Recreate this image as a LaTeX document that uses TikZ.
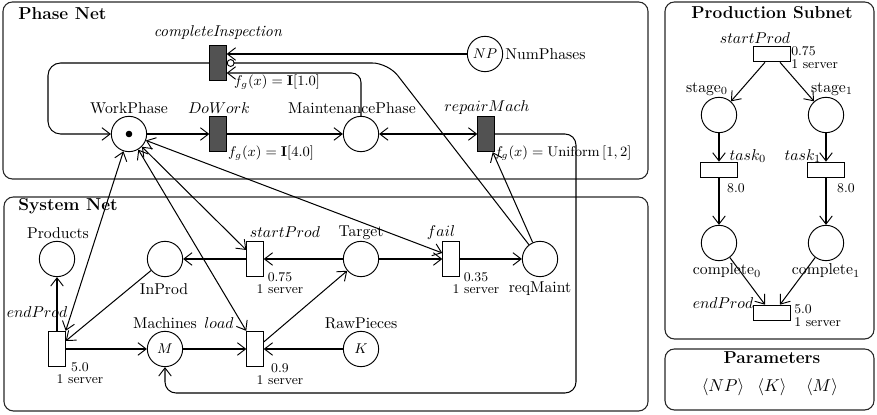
\documentclass[tikz,border=0pt]{standalone}
\usetikzlibrary{arrows.meta,calc}
\begin{document}
\begin{tikzpicture}[x=0.637pt,y=-0.637pt,
 >={Straight Barb[length=5.2pt,width=8pt,line width=0.6pt]},
 place/.style={circle,draw,line width=0.6pt,minimum size=22.5pt,inner sep=0pt,font=\small},
 vtrans/.style={rectangle,draw,line width=0.6pt,minimum width=10.5pt,minimum height=22.5pt,inner sep=0pt},
 htrans/.style={rectangle,draw,line width=0.6pt,minimum width=23pt,minimum height=10pt,inner sep=0pt},
 dark/.style={fill=black!68},
 panel/.style={draw=black!85,line width=0.7pt,rounded corners=6pt},
 thk/.style={line width=1.25pt},
 thn/.style={line width=0.65pt},
 lbl/.style={inner sep=0pt},
 rate/.style={inner sep=0pt,font=\fontsize{8.5}{7.6}\selectfont,align=center},
 ratew/.style={inner sep=0pt,font=\fontsize{8.5}{8}\selectfont,align=center},
 ratel/.style={inner sep=0pt,font=\fontsize{8.5}{8.5}\selectfont,align=left},
 fg/.style={inner sep=0pt,font=\small},
 title/.style={inner sep=0pt,font=\fontsize{11}{13}\bfseries\selectfont},
 inhib/.style={-{Circle[open,length=5pt,width=5pt,line width=0.6pt]}},
]
\useasboundingbox (0,0) rectangle (877,415);
% panels
\draw[panel] (3,2) rectangle (648,179);
\draw[panel] (4,197) rectangle (648,411);
\draw[panel] (665,2) rectangle (874,339);
\draw[panel] (665,349) rectangle (874,410);
\node[title,anchor=west] (tPN) at (18,14) {Phase Net};
\node[title,anchor=west] (tSN) at (18,206) {System Net};
\node[title] (tPS) at (772,13) {Production Subnet};
\node[title] (tPa) at (772,358) {Parameters};
\node[inner sep=0pt,font=\fontsize{11}{13}\selectfont] (pNP) at (723,387) {$\langle NP\rangle$};
\node[inner sep=0pt,font=\fontsize{11}{13}\selectfont] (pK) at (772,387) {$\langle K\rangle$};
\node[inner sep=0pt,font=\fontsize{11}{13}\selectfont] (pM) at (822,387) {$\langle M\rangle$};

% ---------------- Phase Net
\node[vtrans,dark] (ci) at (218,63) {};
\node[place] (NP) at (485,54) {$NP$};
\node[place] (WP) at (129,134) {};
\fill (WP.center) circle[radius=2.1pt];
\node[vtrans,dark] (dw) at (218,134) {};
\node[place] (MP) at (361,134) {};
\node[vtrans,dark] (rm) at (486,134) {};

\node[lbl] (lci) at (218,33) {\textit{completeInspection}};
\node[lbl,anchor=west] (lNP) at (505,54) {NumPhases};
\node[lbl] (lWP) at (129,108) {WorkPhase};
\node[lbl] (ldw) at (219,108) {$DoWork$};
\node[lbl] (lMP) at (352,108) {MaintenancePhase};
\node[lbl] (lrm) at (487,108) {$repairMach$};
\node[fg] (fci) at (277,82) {$f_g(x)=\mathbf{I}[1.0]$};
\node[fg] (fdw) at (271,153) {$f_g(x)=\mathbf{I}[4.0]$};
\node[fg] (frm) at (563,153) {$f_g(x)=\mathrm{Uniform}\,[1,2]$};

% ---------------- System Net
\node[place] (Pr) at (57,259) {};
\node[place] (IP) at (165,259) {};
\node[vtrans] (sp) at (255,259) {};
\node[place] (Tg) at (361,259) {};
\node[vtrans] (fl) at (451,259) {};
\node[place] (rq) at (540,259) {};
\node[vtrans] (ep) at (57,349) {};
\node[place] (Mc) at (165,349) {$M$};
\node[vtrans] (ld) at (255,349) {};
\node[place] (RP) at (361,349) {$K$};

\node[lbl] (lPr) at (58,233) {Products};
\node[lbl] (lIP) at (164,289) {InProd};
\node[lbl] (lsp) at (285,232) {$startProd$};
\node[rate] (rsp) at (280,283) {0.75\\1 server};
\node[lbl] (lTg) at (361,233) {Target};
\node[lbl] (lfl) at (441,233) {$fail$};
\node[ratew] (rfl) at (476,283) {0.35\\1 server};
\node[lbl] (lrq) at (540,289) {reqMaint};
\node[lbl] (lep) at (37,312) {$endProd$};
\node[rate] (rep) at (80,373) {5.0\\1 server};
\node[lbl] (lMc) at (165,323) {Machines};
\node[lbl] (lld) at (219,323) {$load$};
\node[rate] (rld) at (280,374) {0.9\\1 server};
\node[lbl] (lRP) at (361,323) {RawPieces};

% ---------------- Production Subnet
\node[htrans] (sp2) at (772,54) {};
\node[place] (s0) at (719,115) {};
\node[place] (s1) at (826,115) {};
\node[htrans] (t0) at (719,170) {};
\node[htrans] (t1) at (826,170) {};
\node[place] (c0) at (719,243) {};
\node[place] (c1) at (826,243) {};
\node[htrans] (ep2) at (772,313) {};

\node[lbl] (lsp2) at (755,38) {$startProd$};
\node[ratel,anchor=north west] (rsp2) at (791,46) {0.75\\1 server};
\node[lbl] (ls0) at (707,89) {stage$_0$};
\node[lbl] (ls1) at (832,89) {stage$_1$};
\node[lbl] (lt0) at (748,156) {$task_0$};
\node[lbl] (lt1) at (803,156) {$task_1$};
\node[ratel] (r0) at (736,188) {8.0};
\node[ratel] (r1) at (846,188) {8.0};
\node[lbl] (lc0) at (727,271) {complete$_0$};
\node[lbl] (lc1) at (826,271) {complete$_1$};
\node[lbl] (lep2) at (723,303) {$endProd$};
\node[ratel,anchor=north west] (rep2) at (794,304) {5.0\\1 server};

% ---------------- arcs: Phase Net
\draw[thk,->] (NP.west) -- (ci.east |- NP.west);
\draw[thn,inhib,rounded corners=10pt] (rq) -- (388,63) -- (ci.east);
\draw[thn,->,rounded corners=6pt] (MP) |- ($(ci.east)+(0,10)$);
\draw[thn,->,rounded corners=8pt] (ci.west) -- (48,63) -- (48,134) -- (WP);
\draw[thk,->] (WP) -- (dw);
\draw[thk,->] (dw) -- (MP);
\draw[thk,<->] (MP) -- (rm);
\draw[thn,->,rounded corners=7pt] (rm.east) -- (576,134) -- (576,393) -- (165,393) -- (Mc.south);
\draw[thn,->] (rq) -- ($(rm.south east)+(-2,0)$);

% ---------------- arcs: System Net
\draw[thn,<->] (ep.north east) -- (WP);
\draw[thn,<->] ($(sp.west)+(0,-9)$) -- (WP);
\draw[thn,<->] (ld.north west) -- (WP);
\draw[thn,<->] ($(fl.west)+(0,-6)$) -- (WP);
\draw[thk,->] (Tg) -- (sp);
\draw[thk,->] (sp) -- (IP);
\draw[thk,->] (Tg) -- (fl);
\draw[thk,->] (fl) -- (rq);
\draw[thk,->] (ep) -- (Pr);
\draw[thk,->] (ep) -- (Mc);
\draw[thn,->] (IP) -- ($(ep.east)+(0,-8)$);
\draw[thk,->] (Mc) -- (ld);
\draw[thk,->] (RP) -- (ld);
\draw[thn,->] ($(ld.east)+(0,-7)$) -- (Tg);

% ---------------- arcs: Production Subnet
\draw[thn,->] ($(sp2.south)+(-7,0)$) -- (s0);
\draw[thn,->] ($(sp2.south)+(8,0)$) -- (s1);
\draw[thk,->] (s0) -- (t0);
\draw[thk,->] (s1) -- (t1);
\draw[thk,->] (t0) -- (c0);
\draw[thk,->] (t1) -- (c1);
\draw[thn,->] (c0) -- ($(ep2.north)+(-7,0)$);
\draw[thn,->] (c1) -- ($(ep2.north)+(8,0)$);
\end{tikzpicture}
\end{document}
